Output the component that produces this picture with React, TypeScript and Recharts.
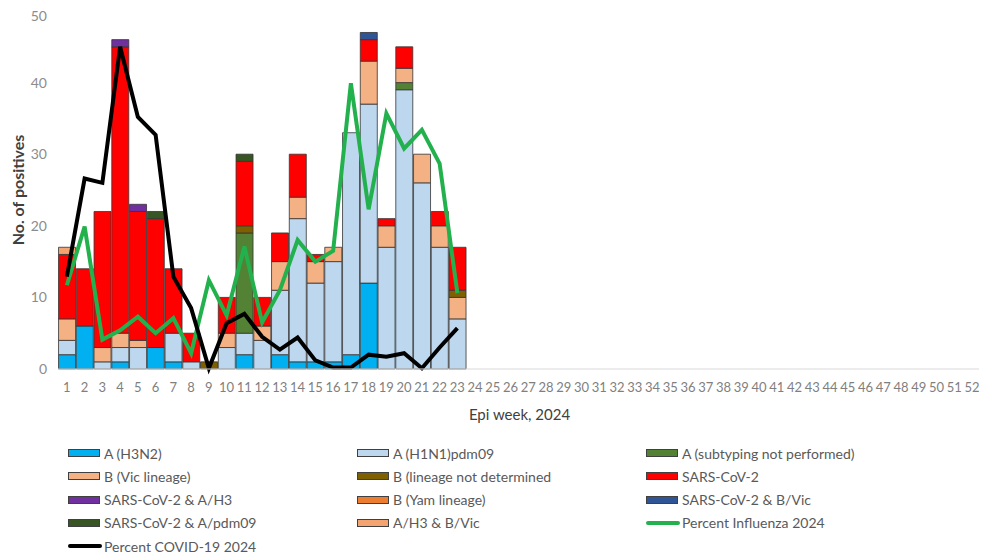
import React from 'react';
import { ComposedChart, Bar, Line, XAxis, YAxis, Legend } from 'recharts';

// Epi weeks 1..52
const weeks: string[] = [
  '1','2','3','4','5','6','7','8','9','10','11','12','13','14','15','16','17','18','19','20','21','22','23','24','25','26',
  '27','28','29','30','31','32','33','34','35','36','37','38','39','40','41','42','43','44','45','46','47','48','49','50','51','52',
];

// Values for weeks 1..23 (later weeks have no data)
const aH3N2 = [2, 6, 0, 1, 0, 3, 1, 0, 0, 0, 2, 0, 2, 1, 1, 1, 2, 12, 0, 0, 0, 0, 0];
const aH1N1 = [2, 0, 1, 2, 3, 0, 4, 1, 0, 3, 3, 4, 9, 20, 11, 14, 31, 25, 17, 39, 26, 17, 7];
const aNotSubtyped = [0, 0, 0, 0, 0, 0, 0, 0, 0, 0, 14, 0, 0, 0, 0, 0, 0, 0, 0, 1, 0, 0, 0];
const bVic = [3, 0, 2, 2, 1, 0, 0, 0, 0, 2, 0, 2, 4, 3, 3, 2, 0, 6, 3, 2, 4, 3, 3];
const bNotDetermined = [0, 0, 0, 0, 0, 0, 0, 0, 1, 0, 1, 0, 0, 0, 0, 0, 0, 0, 0, 0, 0, 0, 1];
const sarsCov2 = [9, 8, 19, 40, 18, 18, 9, 4, 0, 5, 9, 4, 4, 6, 1, 0, 0, 3, 1, 3, 0, 2, 6];
const sarsH3 = [0, 0, 0, 1, 1, 0, 0, 0, 0, 0, 0, 0, 0, 0, 0, 0, 0, 0, 0, 0, 0, 0, 0];
const bYam = [0, 0, 0, 0, 0, 0, 0, 0, 0, 0, 0, 0, 0, 0, 0, 0, 0, 0, 0, 0, 0, 0, 0];
const sarsBVic = [0, 0, 0, 0, 0, 0, 0, 0, 0, 0, 0, 0, 0, 0, 0, 0, 0, 1, 0, 0, 0, 0, 0];
const sarsPdm09 = [0, 0, 0, 0, 0, 1, 0, 0, 0, 0, 1, 0, 0, 0, 0, 0, 0, 0, 0, 0, 0, 0, 0];
const h3BVic = [1, 0, 0, 0, 0, 0, 0, 0, 0, 0, 0, 0, 0, 0, 0, 0, 0, 0, 0, 0, 0, 0, 0];
const pctInfluenza = [11.7, 19.9, 4.1, 5.4, 7.3, 5.0, 7.1, 2.2, 12.4, 7.5, 17.1, 6.5, 11.0, 18.0, 15.0, 16.5, 39.9, 22.3, 35.7, 30.8, 33.4, 28.7, 10.6];
const pctCovid = [12.9, 26.6, 26.0, 45.0, 35.2, 32.7, 12.9, 8.5, 0.1, 6.4, 7.7, 4.5, 2.7, 4.4, 1.2, 0.2, 0.2, 2.0, 1.7, 2.2, 0.1, 3.0, 5.7];

const yTicks = [0, 10, 20, 30, 40, 50];

const barSeries = [
  { key: 'h3n2', name: 'A (H3N2)', color: '#00B0F0', values: aH3N2 },
  { key: 'h1n1', name: 'A (H1N1)pdm09', color: '#BDD7EE', values: aH1N1 },
  { key: 'anp', name: 'A (subtyping not performed)', color: '#548235', values: aNotSubtyped },
  { key: 'bvic', name: 'B (Vic lineage)', color: '#F4B183', values: bVic },
  { key: 'bnd', name: 'B (lineage not determined', color: '#7F6000', values: bNotDetermined },
  { key: 'sc2', name: 'SARS-CoV-2', color: '#FF0000', values: sarsCov2 },
  { key: 'sc2h3', name: 'SARS-CoV-2 & A/H3', color: '#7030A0', values: sarsH3 },
  { key: 'byam', name: 'B (Yam lineage)', color: '#ED7D31', values: bYam },
  { key: 'sc2bvic', name: 'SARS-CoV-2 & B/Vic', color: '#2F5597', values: sarsBVic },
  { key: 'sc2pdm', name: 'SARS-CoV-2 & A/pdm09', color: '#375623', values: sarsPdm09 },
  { key: 'h3bvic', name: 'A/H3 & B/Vic', color: '#F4A470', values: h3BVic },
];

const lineSeries = [
  { key: 'flu', name: 'Percent Influenza 2024', color: '#22B14C', values: pctInfluenza },
  { key: 'covid', name: 'Percent COVID-19 2024', color: '#000000', values: pctCovid },
];

const data = weeks.map((w, i) => {
  const row: any = { week: w };
  barSeries.forEach((s) => {
    row[s.key] = i < s.values.length ? s.values[i] : 0;
  });
  lineSeries.forEach((s) => {
    row[s.key] = i < s.values.length ? s.values[i] : null;
  });
  return row;
});

const FONT = 'Lato, "Liberation Sans", sans-serif';

const legendItems = [
  ...barSeries.map((s) => ({ name: s.name, color: s.color, kind: 'bar' })),
  ...lineSeries.map((s) => ({ name: s.name, color: s.color, kind: 'line' })),
];

const colLeft = [60, 349, 638];
const rowCenter = [34, 57, 80.5, 103.7, 127];

const LegendContent = () => (
  <div style={{ position: 'relative', width: 975, height: 140, fontFamily: FONT, fontSize: 14, color: '#595959' }}>
    {legendItems.map((it, i) => {
      const col = i % 3;
      const row = Math.floor(i / 3);
      return (
        <div
          key={it.name}
          style={{
            position: 'absolute',
            left: colLeft[col],
            top: rowCenter[row] - 10,
            height: 20,
            display: 'flex',
            alignItems: 'center',
            whiteSpace: 'nowrap',
          }}
        >
          {it.kind === 'bar' ? (
            <span
              style={{
                display: 'inline-block',
                width: 30,
                height: 6,
                background: it.color,
                border: '1px solid #404040',
                marginRight: 4,
              }}
            />
          ) : (
            <span
              style={{
                display: 'inline-block',
                width: 34,
                height: 4,
                borderRadius: 2,
                background: it.color,
                marginRight: 2,
              }}
            />
          )}
          <span>{it.name}</span>
        </div>
      );
    })}
  </div>
);

const YLabel = (props: any) => {
  const vb = props.viewBox || { x: 0, y: 0, width: 0, height: 0 };
  const cx = 9;
  const cy = vb.y + vb.height / 2;
  return (
    <text
      x={cx}
      y={cy}
      transform={`rotate(-90 ${cx} ${cy})`}
      textAnchor="middle"
      dominantBaseline="central"
      fontFamily={FONT}
      fontSize={16}
      fontWeight={700}
      fill="#404040"
    >
      No. of positives
    </text>
  );
};

export default function App() {
  return (
    <ComposedChart
      width={979}
      height={551}
      data={data}
      margin={{ top: 3, right: 6, left: 0, bottom: 0 }}
      barCategoryGap="3%"
    >
      <XAxis
        dataKey="week"
        interval={0}
        tickLine={false}
        axisLine={{ stroke: '#D9D9D9' }}
        tickMargin={8}
        height={50}
        tick={{ fill: '#7F7F7F', fontSize: 13, fontFamily: FONT }}
        label={{ value: 'Epi week, 2024', position: 'insideBottom', offset: -1, fill: '#404040', fontSize: 15, fontFamily: FONT }}
      />
      <YAxis
        domain={[0, 50]}
        ticks={yTicks}
        width={50}
        axisLine={false}
        tickLine={false}
        tickMargin={5}
        tick={{ fill: '#8C8C8C', fontSize: 14, fontFamily: FONT }}
        label={<YLabel />}
      />
      <Legend verticalAlign="bottom" height={140} content={<LegendContent />} />
      {barSeries.map((s) => (
        <Bar
          key={s.key}
          dataKey={s.key}
          name={s.name}
          stackId="a"
          fill={s.color}
          stroke="#333333"
          strokeWidth={0.8}
          isAnimationActive={false}
        />
      ))}
      {lineSeries.map((s) => (
        <Line
          key={s.key}
          type="linear"
          dataKey={s.key}
          name={s.name}
          stroke={s.color}
          strokeWidth={4}
          dot={false}
          activeDot={false}
          connectNulls={false}
          isAnimationActive={false}
        />
      ))}
    </ComposedChart>
  );
}
